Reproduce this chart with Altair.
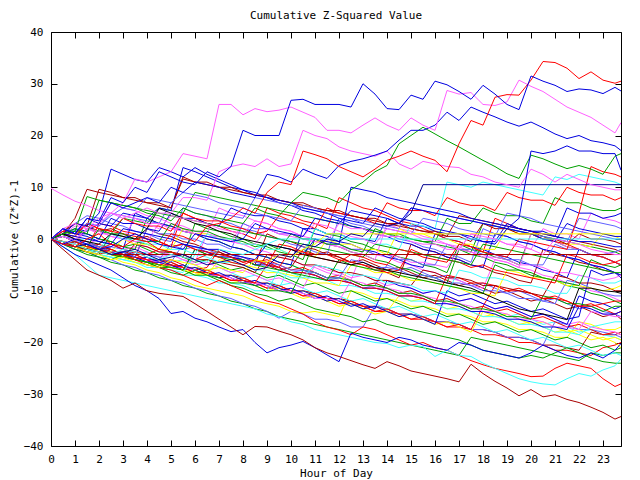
import altair as alt
import pandas as pd

TITLE = "Cumulative Z-Squared Value"
HALF = [i * 0.5 for i in range(48)]
HOURS = HALF + [23.75]
X_TICKS = list(range(24))
Y_TICKS = [-40, -30, -20, -10, 0, 10, 20, 30, 40]

R, G, B, M, C, Y = "#ff0000", "#00a000", "#0000e0", "#ff60ff", "#40ffff", "#ffff00"
K, DR, LB, NV = "#000000", "#a80000", "#6060ff", "#000090"

# values on the half-hour grid (last value at 23:45)
s01 = [0,2,1,4,3.5,8,7,10, 9,13,12,11,10.5,13,12,14, 21,20,20,20,26.8,27,26,26,
       26,25.5,30,28,25.2,25,27.8,27, 30.5,29.8,28.5,27,29.7,28,26,25, 31.5,30.5,29.7,28.5,29,28.8,28.1,29.3, 28.6]
s02 = [0,-1,-1.5,0,1,-1,-1.5,0, -0.5,-2,1,0.5,-0.5,2.5,3,4, 6,5,9,11,10.5,17,16.3,15.5,
       14,13,12,13.5,15.2,16,17,16, 15.2,13,18.4,22.9,22,27.4,27.9,27.8, 30.7,34.3,34.1,33,31,32.3,30.7,30.1, 30.5]
s03 = [0,2,3,2,4,5,7,11.6, 11,12,13,16.5,16,15.5,26,26, 24,25.2,24.6,24.9,25.5,24.5,23.5,21,
       21,20.5,22,23.4,22,21,23.4,22, 21,28.7,28,28.3,26,25.8,26.5,30.7, 29.5,28.5,27,25.5,24.5,23.5,22,20.5, 22.5]
s04 = [0,2,1,4,3,7,6,7, 8,7,10,9,11,10.5,10,9, 8.5,8,12.5,12,11,13.5,12.5,11.7,
       14.2,15,15.5,16.2,17,19.1,21,21, 22,24.5,22.9,25.5,24.5,23.6,22.6,21.8, 22.6,21.5,20.3,19.4,20,19,18.6,18, 17.1]
s05 = [0,-1,0,-1,-2,-1.5,0,1, 0,-1,-1.5,-2,1,0.5,0,-0.5, 0,3,2,1.5,1,0.5,4,3.5,
       3,5.5,5,4.5,4,3,6,5.5, 5,4.5,4,3.5,3,2.5,2,4, 17,16.5,17,18,17,17,16.5,16.5, 13.3]
s06 = [0,1,2,1,7.5,7,6.5,6, 5,4.5,3.5,6,5,4.5,4,3.5, 3,6,5,4.5,7,9,8.5,8,
       7,9.5,11,13,14.2,18.4,20,21.6, 20.3,19,17.8,16.5,15.2,14,12.6,11.7, 16.2,15.5,14.5,13.6,14.2,13.5,12.5,16, 16.5]
s07 = [0,-1,0,2,3,5,4,5, 6,5,5,8,8,7.5,13,14, 14.5,14,15.5,14,14.5,21,20,19.4,
       17.8,17,16.5,16,17,14.5,13.5,15, 14.5,14,13.8,12.5,12,11,10.5,10, 13.5,12.5,11,12.5,11.5,10.5,10,9.5, 9.5]
s08 = [0,-1,-1.5,-1,-2,-3,-2.5,-2, -3,-4,-3.5,-3,-4,-5,-4.5,-4, -5,-6,-5.5,-3,-3.5,-1,-1.5,0,
       -0.5,1,0.5,3,2.5,3,5,10.5, 10.5]
s09 = [9.8,8.5,7.3,6.5,5.5,5,4.5,4, 3,2,4.5,4,3.5,3,2,1.5, 1,3.5,3,2,1.5,0.5,3,2.5,
       1.5,0.5,0,-1,2,1.5,1,0, -0.5,-1,-2,1,0.5,0,-1,-1.5, -2,-3,0,-0.5,-1,-2,-2.5,-3, -3]
low1 = [0,-2,-4,-6,-7,-8,-9.5,-8.5, -10,-10.5,-10.8,-11.1,-12.5,-14,-15.5,-17, -18.5,-16.9,-17,-17.8,-18.5,-19.5,-21,-22,
        -22.7,-23.5,-24.3,-25,-23.7,-24.5,-25.5,-26, -26.5,-27,-27.6,-24.2,-26,-27.5,-28.8,-30.3, -29.1,-30.5,-30.1,-31,-31.6,-32.5,-33.5,-34.8, -34.3]
low2 = [0,-1.5,-3,-4,-5,-6,-7.5,-9, -10,-11.5,-14.4,-14,-15.3,-16,-17,-17.9, -17.5,-20,-22,-21,-20.5,-19.8,-21,-22.4,
        -23.7,-18.2,-19,-19.5,-20,-19,-19.5,-20.5, -21,-21.5,-20,-20.5,-21.5,-22,-22.5,-23, -22,-20.5,-21.5,-22.5,-23,-22,-23,-21.5, -20.2]
low3 = [0,-1.5,-3,-5,-7,-7.5,-8,-8.5, -9,-9.5,-10,-10.5,-11,-11.5,-12,-12.5, -13,-13.5,-14.5,-15,-16,-16.5,-17.5,-18,
        -18.5,-19,-19.5,-20,-20.2,-21,-20.5,-20.8, -22.7,-21.5,-22.5,-22.7,-24,-25,-26,-27, -27.6,-28,-28.2,-27,-26,-26.5,-25.3,-24.5, -23.2]
low4 = [0,-0.5,-1.5,-2.5,-3,-2,-3,-4, -5,-5.5,-6,-7,-8,-9,-8,-9, -10,-11,-12,-12.5,-13.5,-14.5,-16,-17,
        -17.6,-18.5,-17,-17.5,-18.5,-19.5,-20.5,-20, -21,-21.5,-22.5,-23.5,-24.3,-25,-25.5,-26, -26.6,-26.5,-25,-24,-24.5,-25,-27,-28.5, -28]
low5 = [0,-1,-2,-2.5,-3.5,-4,-3,-4, -4.5,-5.5,-6.5,-7,-6,-7,-8,-9, -9.5,-10.5,-11,-12,-11.5,-12.5,-13.5,-14,
        -14.5,-15,-16,-15.5,-16.5,-17,-17.5,-18, -18.5,-19,-19.5,-20.5,-21.5,-22,-22.5,-23, -22.5,-23,-22,-21,-22,-23,-23.7,-24, -24]
blk = [0,1,0,-0.5,-1,1,0.5,0, 2,5.9,5,4,3,2.5,1.5,1, 0,-0.5,-1,-1.5,-2,-3,-3.5,-4,
       -4.5,-5,-4.5,-5.5,-6,-6.5,-7,-7.5, -8,-8.5,-9,-9.5,-10.5,-11.5,-12.5,-13.5, -14,-14.5,-15,-15.6,-9.5,-9.5,-10,-10.2, -10.5]
drflat = [0,-0.5,-1.5,-2,-2.5,-3, -3]
cflat = [0,-0.5,-1,-2,-2.5,-3,-2,-2.5, -3.5,-4,-3,-3.5,-4,-4.5,-2,-2.5, -3,-2,-1,0, 0]
yflat = [0,-1,-1.5,-2.5,-3,-4,-3.5,-4.5, -5,-5.5,-4,-4.5,-5,-6,-5.5,-6, -6.5,-4,-4.5,-3,-3.5,-2,-1,1, 1]
m01 = [0,1,0.5,3,2,1.5,4,3, 2.5,2.5,1.5,5,4,3.5,3.5,2.5, 2,1,1.5,4.5,3.5,3,2,6,
       5,4.5,4,3,7,6,5.5,5.5, 4.5,8,7,6.5,6.5,5.5,9,8, 7.5,7.5,6.5,10,9,8.5,8.5,7.5, 8]
m02 = [0,-1,-0.5,-1.5,2,1,1,0, -0.5,-0.5,3,2,1.5,1.5,0.5,0, -0.5,-1.5,-1,-2,1,0,0,-1,
       -1,-2,-2.5,2,1,1,0,-0.5, -0.5,4,3,3,6,5,4.5,4.5, 3.5,3,8,7,7,6,5.5,5.5, 6]
m03 = [0,2,1,1,0,4,3,3, 2,1.5,5,4,4,3,2.5,6, 5,4.5,4.5,3.5,3,2,2,1,
       1,0,0,-0.5,4,3,2.5,2.5, 1.5,1,1,0,-0.5,-0.5,3,2, 1.5,1.5,0.5,6,5,5,4,4.5, 5]
m04 = [0,0.5,-0.5,2,1,1,0,-0.5, -0.5,3,2,2,1,0.5,0.5,-0.5, -1,-1,2,1,1,0,-0.5,-0.5,
       3,2,2,1,0.5,0.5,-0.5,-1, -1,-2,-2,1,0,0,-1,-1, -2,2,1,1,0,5,4,3.5, 3]
m05 = [0,-0.5,-1.5,-1,-2,1,0,0, -1,-1,-2,-2,-3,1,0,0, -1,-1,-2,-2,-3,-3,2,1,
       1,0,0,-1,-1,-2,3,2.5, 2,11,10.5,10,11,10.5,10,9.5, 9,8.5,12,11.5,12.5,12,11.5,11, 10.5]
m06 = [0,-0.5,-1.5,-1.5,-2.5,-2.5,0,-1, -1,-2,-2,2,1,1,0,0, -1,-1,-2,-2,-3,-3,-3.5,0,
       -1,-1,-2,-2,-3,2,1,1, 0,0,-1,-1,-2,-2,2,1, 1,0,0,-1,-1,-1.5,1,0.5, 0]
m07 = [0,1,3,2.5,9.6,9,8,8, 7,7,6,12,11,11,10,10, 9,8.5,8.5,7.5,7,7,6,5.5,
       5.5,4.5,4,4,3,3,2,1.5, 1.5,0.5,0.5,-0.5,3,2,2,1, 1,0,0,-1,1,0,0,-0.5, -1]
m08 = [0,0.5,-0.5,-1,-1.5,-2.5,-2.5,-3.5, 2,1,1,0,0,-1,-1,-2, 3,2,2,1,1,0,0,-1,
       -1,-2,-2,-3,-3,-4,-4,-5, -5,-1,-2,-2,-3,-3,-4,-4, -5,-5,-1,-2,-2,-3,-3,-2.5, -2]
m09 = [0,1.5,1,3,2,1.5,1,0.5, 0,-0.5,-1.5,-1,-2,-2.5,-3,-3.5, -4.5,-4,-5,-1,-1.5,-2.5,-3,-3,
       -4,-4.5,-5,-5.5,-6.5,-6,-2,-3, -3.5,-4,-4.5,-5.5,-5,-6,-6.5,-7, -7.5,-8,-8.5,-3,-3.5,-4.5,-5,-4.5, -4]
m10 = [0,-0.5,-1.5,-2,-2,-3,-3.5,-4, -4.5,-5,-5.5,-6,-2,-3,-3.5,-4, -4,-5,-5.5,-6,-6.5,-7,-7.5,-8,
       -4,-5,-5.5,-6,-6,-7,-7.5,-8, -8.5,-9,-9.5,-10,-10.5,-5,-6,-6, -7,-7.5,-8,-8.5,-9,-4,-5,-5.5, -5]
m11 = [0,1,0.5,0,-0.5,-1,2,1.5, 1,0.5,0,-1,-1.5,-2,-2,-3, -3.5,-4,-1,-1.5,-2,-3,0,-0.5,
       -1,10,9.5,9,8,7.5,7,6.5, 6,5.5,5,4,3.5,3,2.5,2, 1.5,1,0.5,0,-0.5,-0.5,-1,-1.5, -1.5]
m12 = [0,-0.5,-1,2,1.5,0.5,0,4, 3,3,2,1.5,1,0.5,0,-0.5, 3,2,2,1,0.5,0,-0.5,-1,
       -1.5,-2,-2,-3,-3,-3.5,-4.5,-4.5, -5,-5.5,-2,-2.5,-3.5,-3.5,-4,-5, -5,-5.5,-6.5,-6.5,-7,-7.5,-8,-7.5, -7]
m13 = [0,-1,-1.5,-2,-3,-3.5,-4,-4.5, -5,-5.5,-6,-6.5,-3,-3.5,-4.5,-4.5, -5,-6,-6,-6.5,-7.5,-7.5,-5,-5.5,
       -6,-7,-7,-7.5,-8.5,-8.5,-9,-10, -10,-10.5,-6,-6.5,-7.5,-7.5,-8,-9, -9,-9.5,-10.5,-10.5,-7,-7.5,-8.5,-8.5, -8]
m14 = [0,-0.5,-1,-1.5,-2.5,-3,-3.5,-4, -4.5,-5,-5.5,-6,-6.5,-7,-4,-4.5, -5,-5.5,-6.5,-6.5,-7,-7.5,-8.5,-8.5,
       -9,-5,-5.5,-6.5,-6.5,-7,-8,-8, -8.5,-9,-9.5,-10.5,-10.5,-11,-6,-6.5, -7.5,-7.5,-8,-9,-9,-9.5,-10,-9.5, -9]
m15 = [0,-1,-1.5,-2,-2.5,-3,-3.5,-1, -1.5,-2.5,-2.5,-3,-4,-4,-4.5,-5, -5.5,-6.5,-3,-3.5,-4,-5,-5,-5.5,
       -6.5,-6.5,-7,-8,-8,-8.5,-9,-6, -6.5,-7.5,-7.5,-8,-9,-9,-9.5,-10, -10.5,-11,-7,-7.5,-8.5,-8.5,-9,-10, -10]
m16 = [0,0.5,0,-0.5,-1.5,-1.5,-2,-3, -3,-3.5,-4.5,-1,-1.5,-2,-3,-3, -3.5,-4.5,-4.5,-5,-6,-6,-6.5,-7.5,
       -7.5,-4,-4.5,-5.5,-5.5,-6,-7,-7, -7.5,-8.5,-8.5,-9,-10,-10,-10.5,-11.5, -11.5,-12,-12.5,-8,-8.5,-9.5,-10.5,-11, -11]
m17 = [0,-0.5,-1,-2,-2,-2.5,-3.5,-3.5, -4,-5,-5,-5.5,-6.5,-6.5,-7,-8, -8,-8.5,-5,-5.5,-6.5,-6.5,-7,-8,
       -8,-8.5,-9.5,-9.5,-10,-11,-11,-11.5, -12.5,-7,-7.5,-8.5,-8.5,-9,-10,-10, -10.5,-11.5,-11.5,-12,-13,-13,-12.5,-12, -12]
m18 = [0,-0.5,-1,-2,-2.5,-3,-3.5,-4, -4.5,-5.5,-5.5,-6,-7,-7,-7.5,-8.5, -8.5,-9,-10,-10,-10.5,-6,-6.5,-7.5,
       -7.5,-8,-9,-9,-9.5,-10.5,-10.5,-11, -12,-12,-12.5,-13.5,-13.5,-14,-15,-15, -15.5,-11,-11.5,-12.5,-12.5,-13,-14,-13, -13]
m19 = [0,-1,-0.5,-1.5,-2,-2.5,-3,-3.5, -4.5,-4.5,-5,-6,-2,-2.5,-3.5,-3.5, -4,-5,-5,-5.5,-6.5,-6.5,-7,-8,
       -8,-8.5,-9.5,-9.5,-10,-11,-11,-11.5, -12.5,-12.5,-13,-14,-14,-14.5,-15.5,-15.5, -16,-17,-17,-17.5,-13,-13.5,-14.5,-14.5, -14]
m20 = [0,-0.5,-1,-1.5,-2.5,-2.5,-3,-4, -4,-4.5,-5.5,-5.5,-6,-7,-7,-7.5, -8.5,-8.5,-9,-10,-10,-10.5,-11.5,-11.5,
       -12,-8,-8.5,-9.5,-9.5,-10,-11,-11, -11.5,-12.5,-12.5,-13,-14,-14,-14.5,-15.5, -15.5,-16,-17,-17,-17.5,-14,-14.5,-15, -15]
m21 = [0,-1,-1.5,-2.5,-3,-3.5,-4,-4.5, -5.5,-5.5,-6,-7,-7,-7.5,-8.5,-8.5, -9,-10,-10,-6,-6.5,-7.5,-7.5,-8,
       -9,-9,-9.5,-10.5,-10.5,-11,-12,-12, -12.5,-13.5,-13.5,-14,-15,-15,-15.5,-16.5, -16.5,-17,-18,-18,-18.5,-17,-16.5,-16, -16]
m22 = [0,-0.5,-1.5,-2,-3,-3.5,-4.5,-5, -6,-6.5,-7.5,-8,-9,-9.5,-10,-10.5, -11,-12,-12.5,-13,-14,-14.3,-14,-14.5,
       -15,-10,-10.5,-11.5,-11.5,-12,-13,-13, -13.5,-14.5,-14.5,-15,-16,-16,-16.5,-17.5, -17.5,-18,-19,-19,-16,-16.5,-17.5,-17.5, -17]
m23 = [0,0.5,-0.5,-1,-1.5,-2.5,-2.5,-3, -4,-4,-4.5,-5.5,-5.5,-6,-7,-7, -7.5,-8.5,-8.5,-9,-10,-10,-10.5,-11.5,
       -11.5,-12,-13,-13,-13.5,-14.5,-14.5,-15, -16,-16,-16.5,-17.5,-17.5,-18,-19,-19, -19.5,-20.5,-20.5,-21,-21.5,-18,-18.5,-18.5, -18]
m24 = [0,-1,-2,-2.5,-3.5,-4,-5,-5.5, -6.5,-7,-8,-8.5,-9.5,-10,-11,-11.5, -12.5,-13,-14,-15.3,-14,-14.5,-15.5,-15.5,
       -16,-17,-17,-13,-13.5,-14.5,-14.5,-15, -16,-16,-16.5,-17.5,-17.5,-18,-19,-19, -19.5,-20.5,-16,-16.5,-17.5,-17.5,-18,-18.5, -19]
m25 = [0,-0.5,-1,-2,-2,-2.5,-3.5,-3.5, -4,-5,-5,-5.5,-6.5,-6.5,-7,-8, -8,-8.5,-9.5,-9.5,-10,-11,-11,-11.5,
       -12.5,-12.5,-13,-14,-14,-14.5,-15.5,-15.5, -16,-17,-17,-17.5,-18.5,-18.5,-19,-20, -20,-20.5,-21.5,-21.5,-22,-22.5,-21,-20.5, -20]
m26 = [0,-1,-2,-3,-3.5,-4.5,-5,-6, -6.5,-7.5,-8,-9,-9.5,-10.5,-11,-12, -12.5,-13.5,-14,-15,-15.5,-16,-16.5,-17,
       -17.5,-18,-18.5,-19,-19.5,-20,-20.5,-21, -21.5,-22,-22.5,-19,-19.5,-20,-20.5,-21, -21.5,-22,-22.5,-23,-23.5,-22,-22.5,-22, -22]
m27 = [0,1,3,2.5,5,13.5,12.5,11.5, 11,13.8,13,12,13.8,12.5,11.5,10.5, 9.5,9,8,7.5,7,6,5.5,5,
       4,3.5,3,6,5,4,3.5,3, 2,1.5,1,0.5,-0.5,-1,2,1.5, 1,0,-0.5,3,2,1.5,1,0.5, 0.5]
m28 = [0,2,1.5,3,2.5,4.5,6,5.5, 8,7.5,7,9,8.5,8,7,6.5, 6,5,4.5,4,3.5,6.5,6,5,
       4.5,4,3,2.5,2,1.5,1,4, 3.5,3,2,1.5,1,0.5,5,4.5, 4,3,2.5,2,1.5,1,0.5,0, 0]
m29 = [0,1,1.5,8.2,7.5,7,6.5,6, 5.5,5,4.5,4,3.5,3,2.5,2, 1.5,1,0.5,0,-0.5,-1,-1.5,-2,
       -2.5,-3,-3.5,-1,-1.5,-2,-2.5,-3, -3.5,-4,-4.5,-5,-1,-1.5,-2,-2.5, -3,-3.5,-4,-4.5,-5,-5.5,-6,-6.5, -6.5]
m30 = [0,-1,-0.5,-1.5,-2,-1,-2,-2.5, -3,-2,-2.5,-3.5,-4,-3,-3.5,-4.5, -5,-4,-4.5,-5.5,-2,-2.5,-3.5,-4,
       -4.5,-3,-3.5,-4.5,-5,-2,-2.5,-3.5, -4,-4.5,-1,-1.5,-2.5,-3,-3.5,0, -0.5,-1,-1.5,-2,5,14,13,12.5, 12]
e01 = [0,-0.5,-1.5,-2,3,2.5,1.5,1, 0,-0.5,-1.5,5,4,3,2.5,1.5, 1,0,6,5,4.5,3.5,3,2,
       8,7,6,5.5,4.5,3.5,3,2, 1,0,-0.5,-1.5,-2.5,4,3,2, 1.5,0.5,-0.5,-1,-2,-3,-3.5,-4.5, -5]
e02 = [0,-1,-1.5,-2.5,-3,1,0.5,-0.5, -1,-2,-2.5,-3.5,3,2,1.5,0.5, 0,-1,-1.5,-2.5,-3,-4,2,1,
       0.5,-0.5,-1,-2,-2.5,-3.5,-4,-5, -5.5,-6.5,-1,-2,-2.5,-3.5,-4,-5, 1,0,-0.5,-1.5,-2,-3,-3.5,-4.5, -5]
e03 = [0,2,1,0.5,-0.5,-1,-2,5, 4,3,2.5,1.5,1,0,-0.5,-1.5, -2,-3,-3.5,-4.5,-5,2,1,0.5,
       -0.5,-1,-2,-2.5,-3.5,-4,-5,-5.5, 1,0,-0.5,-1.5,-2,-3,-3.5,-4.5, -5,-6,-6.5,-7.5,-2,-3,-3.5,-4.5, -5]
e04 = [0,1,2.5,2,3,7,6,5.5, 4.5,4,3,2.5,1.5,1,6,5, 4.5,3.5,3,2,1.5,0.5,0,-1,
       -1.5,-2.5,-3,-4,3,2,1.5,0.5, 0,-1,-1.5,-2.5,-3,-4,-4.5,-5.5, 1,0,-0.5,-1.5,-2,-3,-3.5,-4.5, -5]
e05 = [0,-1,-1.5,-1,-2,-3,-2.5,-3.5, -4.5,-4,-5,-6,-5.5,-6.5,-7.5,-7, -8,-9,-8.5,-9.5,-5,-6,-6.5,-7.5,
       -7,-8,-9,-8.5,-9.5,-10.5,-10,-11, -12,-11.5,-12.5,-13.5,-13,-14,-15,-14.5, -15.5,-16.5,-16,-17,-18,-17.5,-18.5,-19, -19.5]
e06 = [0,-1,-1.5,-2.5,-2,-3,-4,-3.5, -4.5,-5.5,-5,-6,-7,-6.5,-7.5,-8.5, -8,-9,-10,-9.5,-10.5,-11.5,-11,-12,
       -13,-12.5,-13.5,-14.5,-14,-11,-12,-11.5, -12.5,-13.5,-13,-14,-15,-14.5,-15.5,-16.5, -16,-17,-18,-17.5,-18.5,-19.5,-19,-20, -21]
e07 = [0,1,0,-0.5,-1.5,-2,-3,-3.5, 2,1,0.5,-0.5,-1,-2,-2.5,-3.5, -4,-5,1,0,-0.5,-1.5,-2,-3,
       -3.5,-4.5,-5,-6,-6.5,-7.5,-1,-2, -2.5,-3.5,-4,-5,-5.5,-6.5,-7,-8, -8.5,-2,-3,-3.5,-4.5,-5,-6,-6.5, -7]
e08 = [0,-0.5,-1.5,-1,-2,-3,-2.5,-3.5, -4.5,-4,-1,-2,-1.5,-2.5,-3.5,-3, -4,-5,-4.5,-5.5,-6.5,-6,-7,-8,
       -7.5,-8.5,-9.5,-9,-5,-6,-5.5,-6.5, -7.5,-7,-8,-9,-8.5,-9.5,-10.5,-10, -11,-12,-11.5,-12.5,-13.5,-13,-14,-14.5, -15]
e09 = [0,0.5,-0.5,-1.5,-1,-2,-3,-2.5, -3.5,-4.5,-4,-5,-6,-5.5,-2,-3, -3.5,-4.5,-4,-5,-6,-5.5,-6.5,-7.5,
       -7,-8,-9,-8.5,-9.5,-10.5,-10,-11, -12,-11.5,-12.5,-13.5,-13,-9,-10,-9.5, -10.5,-11.5,-11,-12,-13,-12.5,-13.5,-14.5, -14]
e10 = [0,0.5,1.5,1,0,-0.5,-1.5,-2, 4,3,2.5,1.5,1,0,-0.5,-1.5, -2,-3,-3.5,-4.5,-5,-6,0,-1,
       -1.5,-2.5,-3,-4,-4.5,-5.5,-6,-7, -7.5,-8.5,-2,-3,-3.5,-4.5,-5,-6, -6.5,-7.5,-8,-9,-9.5,-10.5,-11,-12, -12.5]
e11 = [0,-1,-0.5,-1.5,-2.5,-2,-3,-4, -3.5,-4.5,-5.5,-5,-6,-7,-6.5,-7.5, -8.5,-8,-9,-10,-9.5,-10.5,-11.5,-11,
       -12,-13,-12.5,-13.5,-8,-9,-9.5,-10.5, -10,-11,-12,-11.5,-12.5,-13.5,-13,-14, -15,-14.5,-15.5,-16.5,-11,-12,-12.5,-13.5, -13]
e12 = [0,0.5,-0.5,-1,0,-1,-2,-1.5, -2.5,-3.5,-3,-4,-5,-4.5,-5.5,-6.5, -6,-7,-8,-7.5,-8.5,-9.5,-5,-6,
       -6.5,-7.5,-7,-8,-9,-8.5,-9.5,-10.5, -10,-11,-12,-11.5,-12.5,-13.5,-13,-14, -15,-14.5,-15.5,-16.5,-16,-17,-17.5,-18, -18.5]
e13 = [0,1,0.5,-0.5,-1.5,-1,-2,-3, -2.5,-3.5,-4.5,-4,-5,-6,-5.5,-6.5, -7.5,-7,-8,-9,-8.5,-9.5,-10.5,-10,
       -11,-12,-11.5,-12.5,-13.5,-13,-14,-15, -14.5,-15.5,-16.5,-16,-17,-18,-17.5,-18.5, -19.5,-19,-20,-21,-20.5,-21.5,-22.5,-22, -22.5]
e14 = [0,-0.5,-1.5,-1,-2,-3,-2.5,-3.5, -4.5,-4,-5,-6,-5.5,-6.5,-7.5,-7, -8,-9,-8.5,-9.5,-10.5,-10,-11,-12,
       -11.5,-12.5,-13.5,-13,-14,-15,-14.5,-15.5, -16.5,-16,-17,-18,-14,-15,-14.5,-15.5, -16.5,-16,-17,-18,-17.5,-18.5,-19.5,-19, -19.5]
e15 = [0,1.5,3,2.5,1.5,2,1,0, 0.5,-0.5,-1.5,-1,-2,-3,-2.5,-3.5, -4.5,-4,-5,-6,-5.5,-2,-3,-2.5,
       -3.5,-4.5,-4,-5,-6,-5.5,-6.5,-7.5, -7,-8,-9,-8.5,-9.5,-10.5,-10,-11, -12,-11.5,-12.5,-13.5,-13,-14,-15,-14.5, -15.5]
e16 = [0,1,3,4.5,4,3,2.5,1.5, 1,0,-0.5,6,5,4.5,3.5,3, 2,1.5,0.5,0,-1,-1.5,-2.5,-3,
       4,3,2.5,1.5,1,0,-0.5,-1.5, -2,-3,-3.5,-4.5,2,1,0.5,-0.5, -1,-2,-2.5,-3.5,-4,-5,-5.5,-6.5, -7]
e17 = [0,-0.5,-1,-2,-1.5,-2.5,-3.5,-3, -4,-5,-4.5,-5.5,-6.5,-6,-7,-8, -7.5,-8.5,-9.5,-9,-10,-11,-10.5,-11.5,
       -12.5,-12,-13,-14,-13.5,-14.5,-15.5,-15, -16,-17,-16.5,-17.5,-13,-14,-13.5,-14.5, -15.5,-15,-16,-17,-16.5,-17.5,-18.5,-18, -18.5]
e18 = [0,0.5,1.5,1,0,-0.5,-1.5,-1, -2,-3,-2.5,-3.5,-4.5,-4,-5,-6, -5.5,-6.5,-7.5,-7,-8,-9,-8.5,-9.5,
       -10.5,-10,-11,-12,-11.5,-12.5,-13.5,-13, -14,-15,-14.5,-15.5,-16.5,-16,-17,-18, -17.5,-18.5,-19.5,-19,-20,-21,-20.5,-21.5, -21]
e19 = [0,-0.5,-1.5,-1,-2,-3,-2.5,-3.5, -4.5,-4,-5,-6,-5.5,-6.5,-7.5,-7, -8,-9,-8.5,-9.5,-10.5,-10,-11,-12,
       -11.5,-12.5,-13.5,-13,-14,-15,-14.5,-15.5, -16.5,-10,-11,-10.5,-11.5,-12.5,-12,-13, -14,-13.5,-14.5,-15.5,-15,-6,-7,-6.5, -7.5]
e20 = [0,1,0,2,1.5,0.5,0,-1, -1.5,-2.5,-3,-4,-4.5,1,0.5,-0.5, -1,-2,-2.5,-3.5,-4,-5,-5.5,-6.5,
       -7,-8,-2,-3,-3.5,-4.5,-5,-6, -6.5,-7.5,-8,-9,-9.5,-4,-4.5,-5.5, -6,-7,-7.5,-8.5,-9,-10,-10.5,-11.5, -12]
e21 = [0,0.5,-0.5,2,1.5,1,4,3.5, 3,6,5.5,5,9,8.5,8,7.5, 7,6.5,6,5.5,5,4.5,4,3.5,
       3,2.5,2,1.5,1,0.5,0,-0.5, -1,-1.5,-2,-2.5,3,2.5,2,1.5, 1,0.5,0,-0.5,-1,-1.5,-2,-2.5, -3]
e22 = [0,1,4,9.6,9,8.5,8,7.5, 7,6.5,6,11.6,11,10.5,10,9.5, 9,8.5,8,7.5,7,6.5,6,5.5,
       5,4.5,4,3.5,3,2.5,2,1.5, 1,0.5,4.5,4,3.5,3,2.5,2, 1.5,1,0.5,0,-0.5,-1,-1.5,-2, -2.5]
e23 = [0,1,2,1.5,3,2.5,5,4.5, 4,6,5.5,13.8,13,12,11,10, 9.5,8.5,8,7,6.5,5.5,5,4,
       3.5,2.5,2,1,0.5,-0.5,-1,-2, -2.5,-3.5,-4,-5,-5.5,1,0.5,-0.5, -1,-2,-2.5,-3.5,-4,-5,-5.5,-6.5, -7]
e24 = [0,1.5,1,3,2.5,5,4.5,4, 3.5,3,7,6.5,6,5.5,5,4.5, 4,8,7.5,7,6.5,6,5.5,5,
       4.5,4,3.5,3,2.5,2,6,5.5, 5,4.5,4,3.5,3,2.5,2,1.5, 1,0.5,0,-0.5,4,3.5,3,2.5, 2]

SERIES = [
    ("m23", DR, m23), ("m25", R, m25), ("m26", G, m26), ("m24", LB, m24), ("m22", Y, m22),
    ("e13", C, e13), ("e18", G, e18), ("e05", C, e05), ("e06", Y, e06), ("e14", Y, e14),
    ("e17", R, e17), ("e12", M, e12), ("e15", DR, e15), ("e08", LB, e08), ("e10", G, e10),
    ("e09", R, e09), ("e11", B, e11), ("e20", M, e20), ("e19", B, e19), ("e07", DR, e07),
    ("e03", B, e03), ("e16", LB, e16), ("e02", G, e02), ("e04", M, e04), ("e01", R, e01),
    ("e21", G, e21), ("e22", DR, e22), ("e23", B, e23), ("e24", LB, e24),
    ("m21", C, m21), ("m20", M, m20), ("m19", B, m19), ("m18", G, m18), ("m17", R, m17),
    ("m16", LB, m16), ("m15", DR, m15), ("m14", Y, m14), ("m13", C, m13), ("m12", M, m12),
    ("m10", G, m10), ("m09", R, m09), ("m08", LB, m08), ("m06", Y, m06), ("m04", M, m04),
    ("m03", B, m03), ("m02", G, m02), ("m01", R, m01), ("m05", C, m05), ("m07", DR, m07),
    ("m11", B, m11), ("m27", B, m27), ("m28", LB, m28), ("m29", G, m29), ("m30", R, m30),
    ("low5", G, low5), ("low4", R, low4), ("low3", C, low3), ("low2", B, low2), ("low1", DR, low1),
    ("blk", K, blk), ("drflat", DR, drflat), ("cflat", C, cflat), ("yflat", Y, yflat),
    ("s09", M, s09), ("s08", NV, s08), ("s07", M, s07), ("s06", G, s06), ("s05", B, s05),
    ("s04", B, s04), ("s03", M, s03), ("s02", R, s02), ("s01", B, s01),
]

rows = []
for sid, col, vals in SERIES:
    hrs = HOURS if len(vals) == len(HOURS) else HALF[: len(vals) - 1] + [23.75]
    for h, v in zip(hrs, vals):
        rows.append({"sid": sid, "hour": h, "value": v})
df = pd.DataFrame(rows)

FONT = "DejaVu Sans Mono"
FS = 11
xscale = alt.Scale(domain=[0, 23.75], nice=False, zero=False)
yscale = alt.Scale(domain=[-40, 40], nice=False, zero=False)
common = dict(domain=False, grid=False, tickSize=6, tickColor="black", tickWidth=1,
              labelFont=FONT, labelFontSize=FS, labelColor="black",
              titleFont=FONT, titleFontSize=FS, titleFontWeight="normal", titleColor="black",
              offset=-6, labelFlush=False, labelOverlap=False)

lines = alt.Chart(df).mark_line(strokeWidth=1, clip=True).encode(
    x=alt.X("hour:Q", scale=xscale,
            axis=alt.Axis(orient="bottom", values=X_TICKS, title="Hour of Day", labelPadding=7,
                          titleY=36, titleBaseline="alphabetic", **common)),
    y=alt.Y("value:Q", scale=yscale,
            axis=alt.Axis(orient="left", values=Y_TICKS, title="Cumulative (Z*Z)-1", labelPadding=8,
                          titleX=-40, titleBaseline="alphabetic", **common)),
    color=alt.Color("sid:N", legend=None,
                    scale=alt.Scale(domain=[s[0] for s in SERIES], range=[s[1] for s in SERIES])),
)

mirror = alt.Chart(pd.DataFrame({"hour": [X_TICKS[0]], "value": [Y_TICKS[0]]})).mark_point(opacity=0).encode(
    x=alt.X("hour:Q", scale=xscale,
            axis=alt.Axis(orient="top", values=X_TICKS, labels=False, title="", **common)),
    y=alt.Y("value:Q", scale=yscale,
            axis=alt.Axis(orient="right", values=Y_TICKS, labels=False, title="", **common)),
)

title = alt.Chart(pd.DataFrame({"t": [TITLE]})).mark_text(
    font=FONT, fontSize=FS, color="black", baseline="alphabetic", align="center"
).encode(x=alt.value(285), y=alt.value(-13), text="t:N")

chart = alt.layer(lines, mirror, title).resolve_axis(x="independent", y="independent").properties(
    width=570, height=414,
    padding={"left": 51, "top": 32, "right": 19, "bottom": 34},
    autosize=alt.AutoSizeParams(type="none"),
    background="white",
).configure_view(stroke="black", strokeWidth=1)

chart.save("out.html", embed_options={"renderer": "svg", "actions": False})
